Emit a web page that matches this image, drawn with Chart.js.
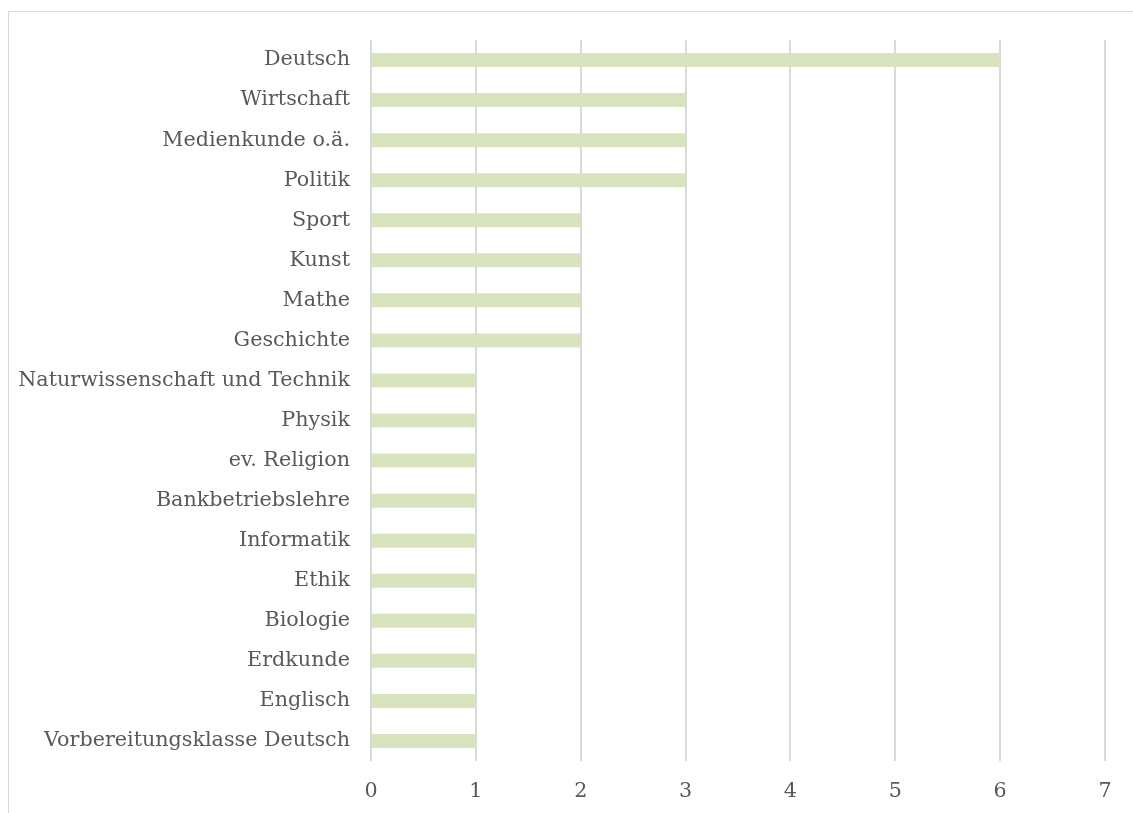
<!DOCTYPE html>
<html>
<head>
<meta charset="utf-8">
<script src="https://cdn.jsdelivr.net/npm/chart.js@4"></script>
<style>
  html, body { margin: 0; padding: 0; background: #fff; overflow: hidden; }
  #frame { position: absolute; left: 8px; top: 11px; width: 2000px; height: 2000px;
           border: 1px solid #d9d9d9; box-sizing: border-box; }
  #wrap { position: absolute; left: 0; top: 0; width: 1133px; height: 813px; }
</style>
</head>
<body>
<div id="frame"></div>
<div id="wrap"><canvas id="chart" width="1133" height="813"></canvas></div>
<script>
// Number of mentions per school subject
const subjects = [
  'Deutsch', 'Wirtschaft', 'Medienkunde o.ä.', 'Politik', 'Sport', 'Kunst',
  'Mathe', 'Geschichte', 'Naturwissenschaft und Technik', 'Physik',
  'ev. Religion', 'Bankbetriebslehre', 'Informatik', 'Ethik', 'Biologie',
  'Erdkunde', 'Englisch', 'Vorbereitungsklasse Deutsch'
];
const counts = [6, 3, 3, 3, 2, 2, 2, 2, 1, 1, 1, 1, 1, 1, 1, 1, 1, 1];
const xTicks = [0, 1, 2, 3, 4, 5, 6, 7];

const textColor = '#595959';
const gridColor = '#d9d9d9';
const barColor = '#d7e4bd';
const font = { family: '"DejaVu Serif", serif', size: 20.7 };

new Chart(document.getElementById('chart'), {
  type: 'bar',
  data: {
    labels: subjects,
    datasets: [{
      data: counts,
      backgroundColor: barColor,
      borderWidth: 0,
      categoryPercentage: 0.35,
      barPercentage: 1.0
    }]
  },
  options: {
    indexAxis: 'y',
    responsive: false,
    animation: false,
    layout: { padding: { top: 40, right: 28, bottom: 0, left: 0 } },
    plugins: { legend: { display: false }, tooltip: { enabled: false } },
    scales: {
      x: {
        min: xTicks[0],
        max: xTicks[xTicks.length - 1],
        afterBuildTicks: (scale) => { scale.ticks = xTicks.map(v => ({ value: v })); },
        afterFit: (scale) => { scale.height = 52; },
        grid: { color: gridColor, lineWidth: 2, drawTicks: false },
        border: { display: false },
        ticks: { color: textColor, font: font, padding: 18, maxRotation: 0 }
      },
      y: {
        afterFit: (scale) => { scale.width = 371; },
        grid: { display: false, drawTicks: false },
        border: { display: false },
        ticks: { color: textColor, font: font, padding: 21, autoSkip: false }
      }
    }
  }
});
</script>
</body>
</html>
